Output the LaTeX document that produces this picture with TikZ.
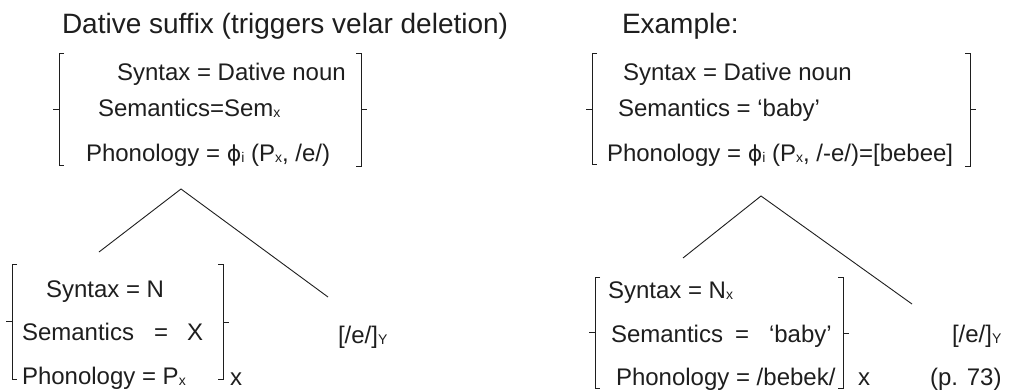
\documentclass[tikz,border=0pt]{standalone}
\usepackage{fontspec}
\setmainfont{Liberation Sans}
\newfontfamily\dvfont{DejaVu Sans}
\definecolor{ink}{HTML}{1E1E1E}
\newcommand\fs[1]{\fontsize{#1}{#1}\selectfont}
\newcommand\sbs[1]{\raisebox{-1pt}{\fs{14}#1}}
\newcommand\phii{{\dvfont\fs{22}ϕ}}
\tikzset{
  lbl/.style={anchor=base west, inner sep=0pt, outer sep=0pt, font=\fs{24}, text=ink},
  ttl/.style={lbl, font=\fs{28}},
  brk/.style={draw=ink, line width=1pt},
  branch/.style={draw=ink, line width=0.9pt}
}
% left bracket: x, top, mid, bottom
\newcommand\lbrk[4]{%
  \draw[brk] (#1+5,#2) -- (#1,#2) -- (#1,#4) -- (#1+5,#4);
  \draw[brk] (#1,#3) -- (#1-6,#3);}
% right bracket: x, top, mid, bottom
\newcommand\rbrk[4]{%
  \draw[brk] (#1-5,#2) -- (#1,#2) -- (#1,#4) -- (#1-5,#4);
  \draw[brk] (#1,#3) -- (#1+6,#3);}
\begin{document}
\begin{tikzpicture}[x=1pt,y=-1pt]
\useasboundingbox (0,0) rectangle (1010,389);

% titles
\node[ttl] (t1) at (62,33) {Dative suffix (triggers velar deletion)};
\node[ttl] (t2) at (622,33) {Example:};

% top-left feature structure
\lbrk{59}{53}{109}{165}
\rbrk{361}{53}{109}{166}
\node[lbl] (a1) at (117,80) {Syntax = Dative noun};
\node[lbl] (a2) at (98,116) {Semantics=Sem\sbs{x}};
\node[lbl] (a3) at (86,161) {Phonology = \phii\sbs{i} (P\sbs{x}, /e/)};

% top-right feature structure
\lbrk{592}{53}{109}{164}
\rbrk{970}{53}{109}{166}
\node[lbl] (b1) at (623,80) {Syntax = Dative noun};
\node[lbl] (b2) at (618,116) {Semantics = ‘baby’};
\node[lbl] (b3) at (607,161) {Phonology = \phii\sbs{i} (P\sbs{x}, /-e/)=[bebee]};

% left tree
\coordinate (apexL) at (181,189);
\coordinate (leftL) at (99,252);
\coordinate (rightL) at (328,297);
\draw[branch] (leftL) -- (apexL) -- (rightL);

% right tree
\coordinate (apexR) at (761,196);
\coordinate (leftR) at (683,258);
\coordinate (rightR) at (912,304);
\draw[branch] (leftR) -- (apexR) -- (rightR);

% lower-left feature structure
\lbrk{12}{264}{321}{379}
\rbrk{223}{264}{322}{379}
\node[lbl] (c1) at (46,297) {Syntax = N};
\node[lbl] (c2) at (22,340) {Semantics\hspace{20pt}=\hspace{19pt}X};
\node[lbl] (c3) at (22,384) {Phonology = P\sbs{x}};
\node[lbl] (cx) at (230,385) {x};
\node[lbl] (cy) at (338,343) {[/e/]\sbs{Y}};

% lower-right feature structure
\lbrk{595}{277}{332}{388}
\rbrk{843}{277}{333}{388}
\node[lbl] (d1) at (608,298) {Syntax = N\sbs{x}};
\node[lbl] (d2) at (611,342) {Semantics\hspace{12pt}=\hspace{20pt}‘baby’};
\node[lbl] (d3) at (616,385) {Phonology = /bebek/};
\node[lbl] (dx) at (858,385) {x};
\node[lbl] (dy) at (952,342) {[/e/]\sbs{Y}};
\node[lbl] (dp) at (930,385) {(p. 73)};
\end{tikzpicture}
\end{document}
